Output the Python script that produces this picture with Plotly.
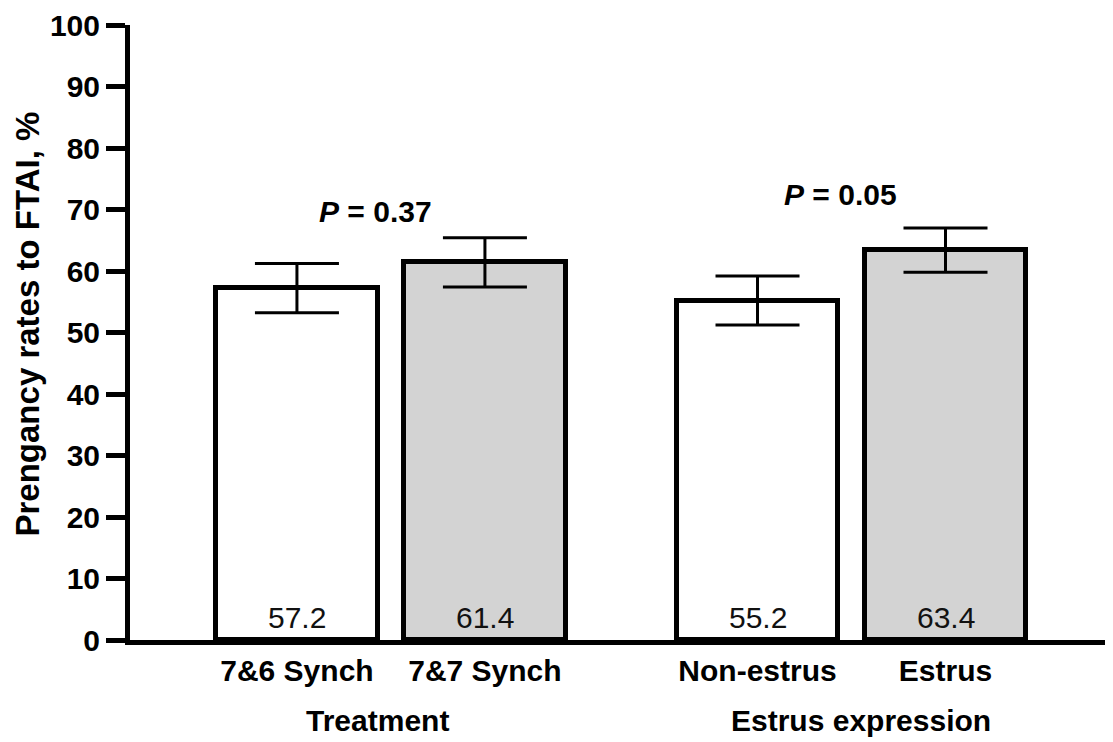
import plotly.graph_objects as go

# ---- data ----
categories = ["7&6 Synch", "7&7 Synch", "Non-estrus", "Estrus"]
pregnancy_rate = [57.2, 61.4, 55.2, 63.4]
error_sem = [4.0, 4.0, 4.0, 3.6]
bar_labels = ["57.2", "61.4", "55.2", "63.4"]
group_titles = ["Treatment", "Estrus expression"]
p_values = ["0.37", "0.05"]
y_ticks = [0, 10, 20, 30, 40, 50, 60, 70, 80, 90, 100]

# ---- layout helpers ----
xpos = [1.0, 2.0, 3.45, 4.45]
fills = ["white", "#d3d3d3", "white", "#d3d3d3"]
FONT = "Liberation Sans, Arial, sans-serif"

fig = go.Figure()
fig.add_trace(go.Bar(
    x=xpos, y=pregnancy_rate, width=0.86,
    marker=dict(color=fills, line=dict(color="black", width=5)),
    error_y=dict(type="data", array=error_sem, visible=True,
                 color="black", thickness=3, width=42),
    showlegend=False, hoverinfo="skip",
))

annotations = []
# value labels inside bars
for bx, lab in zip(xpos, bar_labels):
    annotations.append(dict(x=bx, y=0, xref="x", yref="y", text=lab, showarrow=False,
                            xanchor="center", yanchor="middle", yshift=23,
                            font=dict(family=FONT, size=30, color="#111111")))
# group titles
for gx, title in zip([1.43, 4.0], group_titles):
    annotations.append(dict(x=gx, y=0, xref="x", yref="paper", yshift=-80,
                            text=title, showarrow=False, xanchor="center", yanchor="middle",
                            font=dict(family=FONT, size=30, color="black", weight="bold")))
# P values
for (px, py), pv in zip([(1.42, 69.6), (3.89, 72.5)], p_values):
    annotations.append(dict(x=px, y=py, xref="x", yref="y",
                            text="<i>P</i> = " + pv, showarrow=False,
                            xanchor="center", yanchor="middle",
                            font=dict(family=FONT, size=30, color="black", weight="bold")))
# y-axis title
annotations.append(dict(x=0, y=0.5, xref="paper", yref="paper", xshift=-103, yshift=8,
                        text="Prengancy rates to FTAI, %", textangle=-90, showarrow=False,
                        xanchor="center", yanchor="middle",
                        font=dict(family=FONT, size=33, color="black", weight="bold")))

fig.update_layout(
    width=1105, height=734,
    margin=dict(l=122, r=0, t=14, b=102),
    plot_bgcolor="white", paper_bgcolor="white",
    font=dict(family=FONT, color="black"),
    annotations=annotations,
    bargap=0,
    xaxis=dict(range=[0.112, 5.341], tickvals=xpos, ticktext=categories,
               showline=True, linecolor="black", linewidth=5,
               ticks="", showgrid=False, zeroline=False,
               tickfont=dict(family=FONT, size=30, color="black", weight="bold"),
               ticklabelstandoff=0),
    yaxis=dict(range=[0, 100], tickvals=y_ticks,
               showline=True, linecolor="black", linewidth=5,
               ticks="outside", ticklen=19, tickwidth=5, tickcolor="black",
               showgrid=False, zeroline=False, ticklabeloverflow="allow",
               tickfont=dict(family=FONT, size=30, color="black", weight="bold")),
)

fig.write_html("out.html")
